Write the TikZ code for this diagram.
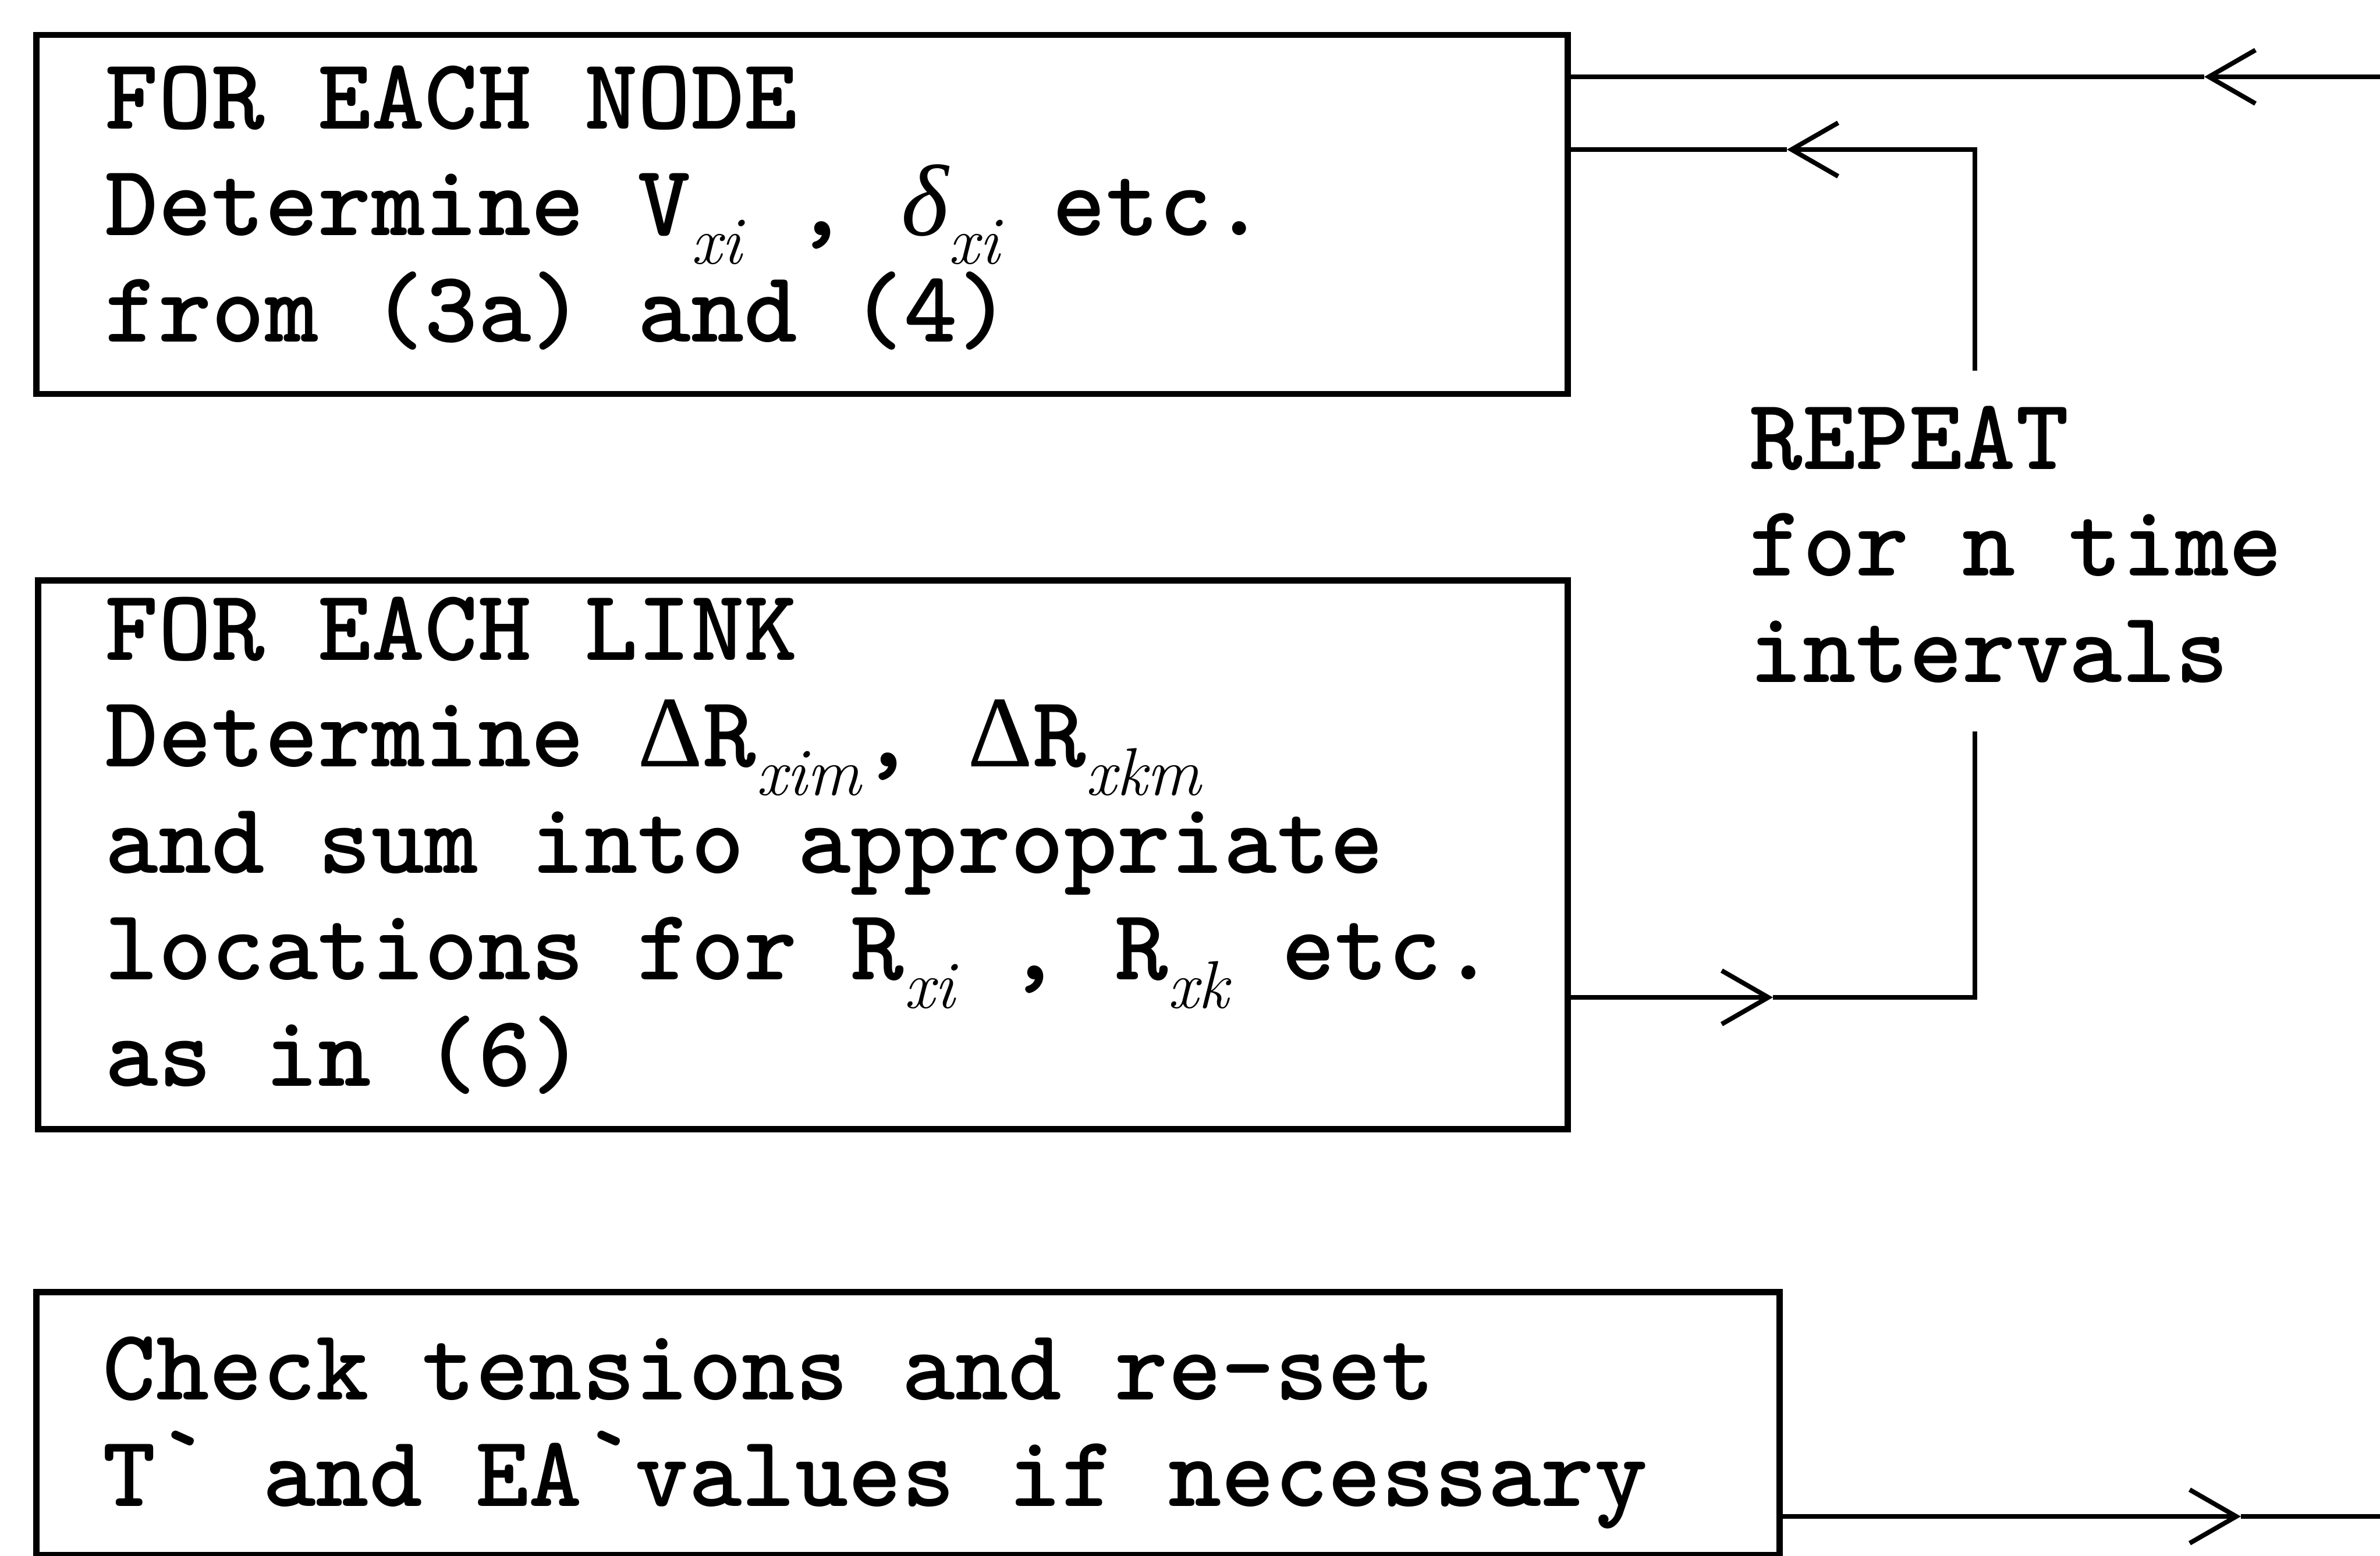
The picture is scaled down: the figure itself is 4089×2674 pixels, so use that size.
\documentclass[tikz,border=0pt]{standalone}
\usepackage{fontspec}
\newfontfamily\grk{Liberation Serif}
\usetikzlibrary{arrows.meta}
\newcommand{\gmark}{\raisebox{0.12em}{\symbol{96}}}
\newcommand{\sbs}[1]{\raisebox{-0.28em}{\fontsize{33}{33}\selectfont\rmfamily\mdseries\itshape #1}}
\newcommand{\dlt}{{\grk\mdseries\itshape δ}}
\newcommand{\Dlt}{{\grk\mdseries Δ}}
\tikzset{
  box/.style={draw, rectangle, line width=1.05mm, inner sep=0pt, anchor=north west},
  txt/.style={anchor=base west, align=left, inner sep=0pt,
              font=\fontsize{49.6}{52}\selectfont\ttfamily\bfseries},
  conn/.style={line width=0.8mm},
  barb/.style={-{Straight Barb[length=8mm,width=9.2mm]}}
}
\begin{document}
\begin{tikzpicture}[x=0.1mm,y=-0.1mm]
\useasboundingbox (0,0) rectangle (4089,2674);

% boxes
\node[box, minimum width=263.1mm, minimum height=61.7mm] (b1) at (57,55) {};
\node[box, minimum width=262.8mm, minimum height=94.3mm] (b2) at (60,992) {};
\node[box, minimum width=299.5mm, minimum height=45.2mm] (b3) at (57,2215) {};

% texts (anchored at the baseline of their last line)
\node[txt] (t1) at (180,587) {FOR EACH NODE\\Determine V\sbs{xi} , \dlt\sbs{xi} etc.\\from (3a) and (4)};
\node[txt] (t2) at (180,1866) {FOR EACH LINK\\Determine \Dlt R\sbs{xim}, \Dlt R\sbs{xkm}\\and sum into appropriate\\locations for R\sbs{xi} , R\sbs{xk} etc.\\as in (6)};
\node[txt] (t3) at (176,2588) {Check tensions and re-set\\T\gmark{} and EA\gmark{}values if necessary};
\node[txt] (t4) at (3005,1172) {REPEAT\\for n time\\intervals};

% connector 1: outer feedback to box 1
\coordinate (in1) at (4089,132);
\coordinate (h1) at (3787,132);
\draw[conn,barb] (in1) -- (h1);
\draw[conn] (h1) -- (b1.east |- h1);

% connector 2: REPEAT loop back to box 1
\coordinate (r2) at (3393,637);
\coordinate (h2) at (3070,257);
\draw[conn,barb] (r2) |- (h2);
\draw[conn] (h2) -- (b1.east |- h2);

% connector 3: box 2 to REPEAT loop
\coordinate (h3) at (3046,1714);
\coordinate (r3) at (3393,1257);
\draw[conn,barb] (b2.east |- h3) -- (h3);
\draw[conn] (h3) -| (r3);

% connector 4: box 3 outwards
\coordinate (h4) at (3850,2606);
\coordinate (out4) at (4089,2606);
\draw[conn,barb] (b3.east |- h4) -- (h4);
\draw[conn] (h4) -- (out4);
\end{tikzpicture}
\end{document}
